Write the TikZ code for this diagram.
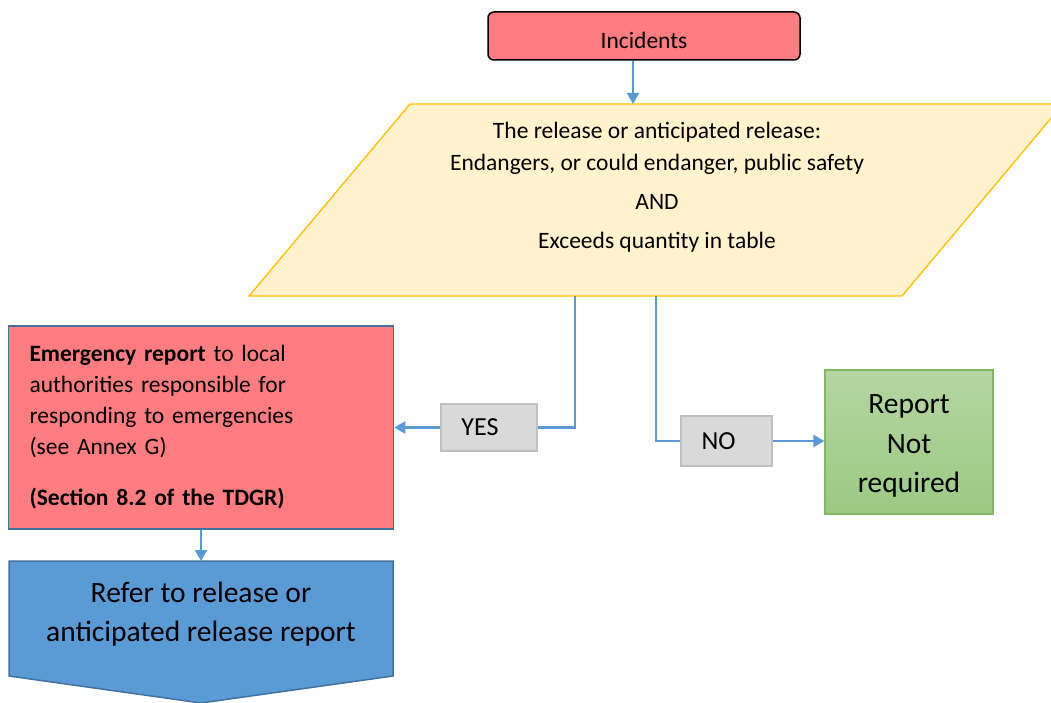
\documentclass[tikz,border=0pt]{standalone}
\usepackage{fontspec}
\setmainfont{Carlito}
\usetikzlibrary{arrows.meta,calc}
\definecolor{lred}{HTML}{FF7C80}
\definecolor{lyel}{HTML}{FFF2CC}
\definecolor{yelb}{HTML}{FFC000}
\definecolor{conn}{HTML}{5B9BD5}
\definecolor{bluef}{HTML}{5B9BD5}
\definecolor{blueb}{HTML}{41719C}
\definecolor{grayf}{HTML}{D9D9D9}
\definecolor{grayb}{HTML}{BFBFBF}
\definecolor{greent}{HTML}{B5D6A3}
\definecolor{greenb}{HTML}{9CC982}
\definecolor{greenl}{HTML}{82B865}
\tikzset{
  connector/.style={draw=conn, line width=2.3pt},
  arrowline/.style={connector, -{Triangle[length=11pt,width=12pt]}},
  labelbox/.style={draw=grayb, fill=grayf, line width=1.2pt, font=\fontsize{26}{30}\selectfont, inner sep=0pt},
}
\begin{document}
\begin{tikzpicture}[x=1pt,y=-1pt]
\useasboundingbox (0,0) rectangle (1051,703);
\clip (0,0) rectangle (1051,703);
% Incidents
\node[draw=black, fill=lred, rounded corners=6pt, line width=1.5pt,
      minimum width=312pt, minimum height=48pt, inner sep=0pt,
      font=\fontsize{23.5}{28}\selectfont] (inc) at (644,36) {\raisebox{-13pt}[0pt][0pt]{Incidents}};
% parallelogram
\draw[draw=yelb, fill=lyel, line width=1.3pt] (410,104) -- (1063,104) -- (902,296) -- (249,296) -- cycle;
\node[align=center, font=\fontsize{23.5}{32}\selectfont, inner sep=0pt] (cond) at (657,187)
  {The release or anticipated release:\\ Endangers, or could endanger, public safety\\[7pt] AND\\[7pt] Exceeds quantity in table};
\coordinate (top) at (633,104);
\coordinate (yesstart) at (575,296);
\coordinate (nostart) at (656,296);
% emergency box
\node[draw=blueb, fill=lred, line width=1.5pt, minimum width=384pt, minimum height=203pt,
      text width=343pt, inner xsep=21pt, align=left, font=\fontsize{23.5}{31}\selectfont] (emerg) at (201,427.5)
  {\textbf{Emergency report} to local\\ authorities responsible for\\ responding to emergencies\\ (see Annex G)\\[20pt] \textbf{(Section 8.2 of the TDGR)}};
% green box
\node[draw=greenl, line width=1.2pt, top color=greent, bottom color=greenb, minimum width=168pt, minimum height=144pt,
      inner sep=0pt, align=center, font=\fontsize{29.5}{39.5}\selectfont] (notreq) at (909,442)
  {\rule{0pt}{27pt}Report\\ Not\\ required};
% labels
\node[labelbox, minimum width=96pt, minimum height=47pt] (yes) at (489,427.5) {\hspace*{-18pt}YES};
\node[labelbox, minimum width=91pt, minimum height=50pt] (no) at (726.5,441) {\hspace*{-16pt}NO};
% pentagon
\draw[draw=blueb, fill=bluef, line width=1.5pt] (9,561) -- (393,561) -- (393,676) -- (201,703) -- (9,676) -- cycle;
\node[align=center, font=\fontsize{29.5}{39}\selectfont, inner sep=0pt] (refer) at (201,614)
  {Refer to release or\\ anticipated release report};
\coordinate (pent) at (201,561);
% connectors
\draw[arrowline] (inc.south -| top) -- (top);
\draw[connector] (yesstart) -- (yesstart |- yes.east) -- (yes.east);
\draw[arrowline] (yes.west) -- (emerg.east |- yes.west);
\draw[connector] (nostart) -- (nostart |- no.west) -- (no.west);
\draw[arrowline] (no.east) -- (notreq.west |- no.east);
\draw[arrowline] (emerg.south) -- (pent);
\end{tikzpicture}
\end{document}
